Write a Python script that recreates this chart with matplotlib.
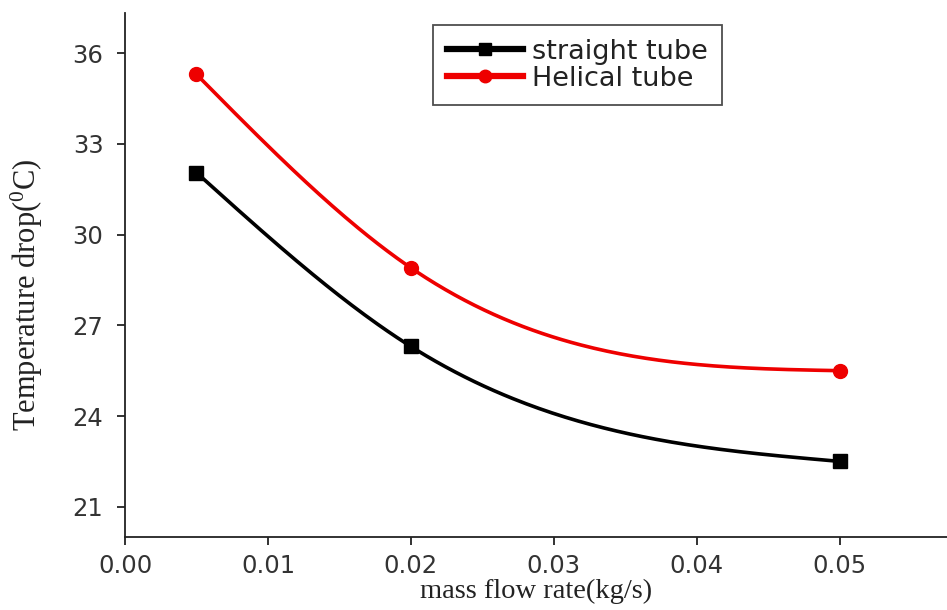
import numpy as np
import matplotlib
matplotlib.use("Agg")
import matplotlib.pyplot as plt
from matplotlib.lines import Line2D

# Data
mass_flow = [0.005, 0.02, 0.05]
straight_tube = [32.05, 26.3, 22.5]
helical_tube = [35.3, 28.9, 25.5]
x_ticks = [0.00, 0.01, 0.02, 0.03, 0.04, 0.05]
y_ticks = [21, 24, 27, 30, 33, 36]


def natural_spline(x, y, n=200):
    x = np.asarray(x, float)
    y = np.asarray(y, float)
    k = len(x)
    h = np.diff(x)
    A = np.zeros((k, k))
    b = np.zeros(k)
    A[0, 0] = 1
    A[-1, -1] = 1
    for i in range(1, k - 1):
        A[i, i - 1] = h[i - 1]
        A[i, i] = 2 * (h[i - 1] + h[i])
        A[i, i + 1] = h[i]
        b[i] = 6 * ((y[i + 1] - y[i]) / h[i] - (y[i] - y[i - 1]) / h[i - 1])
    M = np.linalg.solve(A, b)
    xs = np.linspace(x[0], x[-1], n)
    ys = np.empty_like(xs)
    for j, xv in enumerate(xs):
        i = min(np.searchsorted(x, xv, side="right") - 1, k - 2)
        i = max(i, 0)
        hi = h[i]
        t1 = x[i + 1] - xv
        t0 = xv - x[i]
        ys[j] = (M[i] * t1 ** 3 / (6 * hi) + M[i + 1] * t0 ** 3 / (6 * hi)
                 + (y[i] / hi - M[i] * hi / 6) * t1
                 + (y[i + 1] / hi - M[i + 1] * hi / 6) * t0)
    return xs, ys


plt.rcParams["mathtext.fontset"] = "custom"
plt.rcParams["mathtext.rm"] = "Liberation Serif"
plt.rcParams["mathtext.it"] = "Liberation Serif"

fig = plt.figure(figsize=(9.47, 6.10), dpi=100)
ax = fig.add_axes([0.132, 0.1197, 0.868, 0.859])

sx, sy = natural_spline(mass_flow, straight_tube)
hx, hy = natural_spline(mass_flow, helical_tube)

ax.plot(sx, sy, color="black", lw=2.6, zorder=2)
ax.plot(mass_flow, straight_tube, ls="none", marker="s", ms=10, color="black", zorder=3)
ax.plot(hx, hy, color="#ee0000", lw=2.6, zorder=2)
ax.plot(mass_flow, helical_tube, ls="none", marker="o", ms=10, color="#ee0000", zorder=3)

ax.set_xlim(0, 0.0575)
ax.set_ylim(20.0, 37.33)
ax.set_xticks(x_ticks)
ax.set_xticklabels([f"{v:.2f}" for v in x_ticks])
ax.set_yticks(y_ticks)
ax.set_yticklabels([str(v) for v in y_ticks])

for s in ["top", "right"]:
    ax.spines[s].set_visible(False)
for s in ["left", "bottom"]:
    ax.spines[s].set_linewidth(1.3)
    ax.spines[s].set_color("#222222")

ax.tick_params(direction="out", length=6, width=1.3, colors="#222222",
               labelsize=17.5)
ax.tick_params(axis="x", pad=6)
ax.tick_params(axis="y", pad=9.5)
for lab in ax.get_xticklabels() + ax.get_yticklabels():
    lab.set_fontfamily("DejaVu Sans")
    lab.set_color("#333333")

ax.set_xlabel("mass flow rate(kg/s)", fontsize=20.5, family="Liberation Serif",
              color="#222222")
ax.xaxis.set_label_coords(0.5, -0.08)
ax.set_ylabel("Temperature drop($^{0}$C)", fontsize=22, family="Liberation Serif",
              color="#222222")
ax.yaxis.set_label_coords(-0.097, 0.462)

handles = [
    Line2D([0], [0], color="black", lw=4.5, marker="s", ms=9),
    Line2D([0], [0], color="#ee0000", lw=4.5, marker="o", ms=9),
]
leg = ax.legend(handles, ["straight tube", "Helical tube"], loc="upper left",
                bbox_to_anchor=(0.375, 0.977), borderaxespad=0, frameon=True,
                fancybox=False, edgecolor="#222222", handlelength=2.8,
                handletextpad=0.35, borderpad=0.5, labelspacing=0.05,
                prop={"family": "DejaVu Sans", "size": 19.5})
leg.get_frame().set_linewidth(1.3)
for t in leg.get_texts():
    t.set_color("#222222")

fig.savefig("out.png", dpi=100)
